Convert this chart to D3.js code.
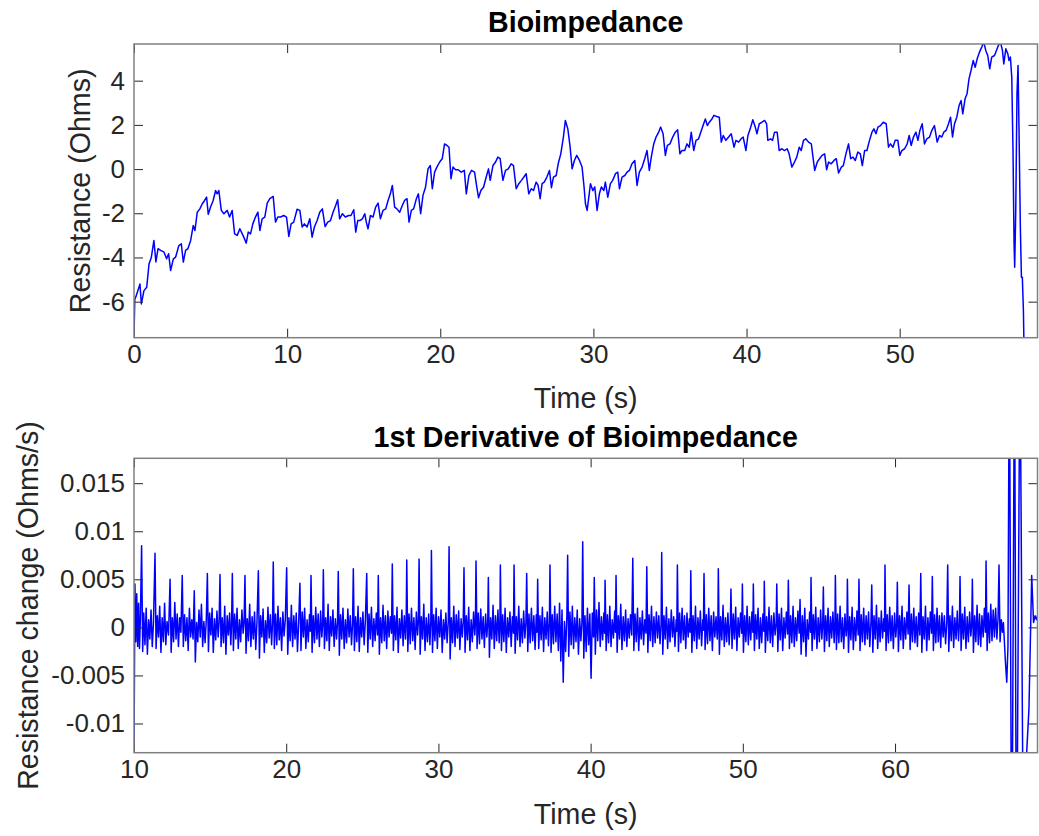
<!DOCTYPE html>
<html>
<head>
<meta charset="utf-8">
<script src="https://cdn.jsdelivr.net/npm/d3@7"></script>
<style>
    body { margin: 0; background: #ffffff; }
    svg text { font-family: "Liberation Sans", Arial, Helvetica, sans-serif; fill: #262626; }
</style>
</head>
<body>
<svg id="chart"></svg>
<script>
/*--------------------------------------------------------------------------------
----- DATA
--------------------------------------------------------------------------------*/

// Bioimpedance resistance samples: [time (s), resistance (Ohms)]
const bioimpedance_samples = [
    [0, -7.6], [0.05, -5.9], [0.11, -5.8], [0.22, -5.57], [0.39, -5.2], [0.48, -6.1], [0.65, -5.5], [0.83, -5.35],
    [0.98, -4.3], [1.13, -4.0], [1.30, -3.23], [1.43, -4.2], [1.57, -3.6], [1.74, -3.68], [1.96, -3.76], [2.13, -4.06],
    [2.26, -3.83], [2.39, -4.59], [2.57, -4.06], [2.72, -3.98], [2.93, -3.46], [3.09, -3.38], [3.22, -4.21], [3.37, -3.68],
    [3.52, -3.6], [3.70, -3.23], [3.87, -2.55], [3.98, -2.78], [4.13, -1.95], [4.30, -1.8], [4.46, -1.57], [4.61, -1.42],
    [4.74, -1.27], [4.85, -2.05], [5.00, -1.72], [5.17, -1.42], [5.33, -0.97], [5.43, -1.12], [5.54, -0.97], [5.70, -1.87],
    [5.87, -2.02], [6.09, -1.87], [6.24, -2.17], [6.41, -1.87], [6.57, -2.93], [6.74, -3.0], [6.91, -2.7], [7.07, -2.93],
    [7.17, -3.08], [7.33, -3.35], [7.46, -2.85], [7.61, -2.93], [7.76, -2.48], [7.93, -2.17], [8.09, -1.95], [8.22, -2.78],
    [8.37, -2.25], [8.54, -2.17], [8.70, -1.54], [8.87, -1.34], [9.09, -1.24], [9.24, -2.4], [9.39, -2.17], [9.57, -2.17],
    [9.78, -2.1], [9.96, -2.17], [10.11, -3.05], [10.26, -2.48], [10.43, -2.4], [10.65, -1.82], [10.83, -1.87], [10.98, -2.62],
    [11.13, -2.48], [11.30, -2.62], [11.48, -2.25], [11.63, -3.08], [11.78, -2.62], [11.96, -2.33], [12.13, -1.95], [12.30, -1.8],
    [12.48, -2.6], [12.65, -2.4], [12.83, -2.33], [13.00, -1.95], [13.17, -1.65], [13.30, -1.39], [13.43, -2.25], [13.61, -2.02],
    [13.80, -2.17], [14.02, -2.1], [14.17, -2.1], [14.35, -1.84], [14.48, -2.85], [14.61, -2.33], [14.74, -2.33], [14.91, -2.25],
    [15.07, -2.02], [15.17, -2.4], [15.28, -2.7], [15.44, -2.1], [15.61, -2.17], [15.78, -1.72], [15.94, -1.54], [16.09, -2.25],
    [16.26, -1.87], [16.44, -1.8], [16.59, -1.42], [16.74, -1.12], [16.87, -0.74], [17.02, -1.72], [17.17, -1.8], [17.35, -1.95],
    [17.52, -1.65], [17.67, -1.42], [17.83, -1.34], [17.96, -2.4], [18.11, -1.87], [18.26, -1.8], [18.44, -1.34], [18.57, -1.12],
    [18.72, -2.02], [18.87, -1.19], [19.04, -0.81], [19.20, 0.01], [19.35, 0.16], [19.48, -0.89], [19.63, -0.14], [19.78, 0.09],
    [19.96, 0.32], [20.13, 0.47], [20.28, 1.14], [20.44, 1.07], [20.57, 0.99], [20.70, -0.44], [20.83, 0.09], [21.00, -0.03],
    [21.17, -0.03], [21.37, -0.14], [21.57, -0.06], [21.70, -1.12], [21.87, -0.29], [22.04, -0.06], [22.24, -0.14], [22.35, -0.66],
    [22.50, -1.3], [22.65, -0.97], [22.83, -0.81], [23.00, -0.36], [23.15, 0.01], [23.26, -0.51], [23.44, 0.16], [23.61, 0.32],
    [23.76, 0.54], [23.91, 0.47], [24.09, -0.51], [24.26, -0.06], [24.44, 0.01], [24.63, 0.24], [24.78, 0.16], [24.96, -0.89],
    [25.13, -0.66], [25.30, -0.51], [25.46, -0.36], [25.61, -0.21], [25.78, -1.12], [25.94, -0.89], [26.09, -0.97], [26.26, -0.59],
    [26.39, -0.74], [26.52, -1.34], [26.65, -0.66], [26.79, -0.59], [26.96, -0.36], [27.13, -0.06], [27.26, -0.84], [27.39, -0.36],
    [27.57, -0.29], [27.70, 0.24], [27.87, 0.69], [28.04, 1.45], [28.17, 2.2], [28.33, 1.82], [28.48, 0.99], [28.61, 0.01],
    [28.76, 0.39], [28.91, 0.62], [29.09, 0.39], [29.26, 0.09], [29.39, -0.81], [29.48, -1.57], [29.59, -1.87], [29.70, -1.27],
    [29.81, -0.66], [29.96, -0.97], [30.09, -0.81], [30.24, -1.87], [30.39, -1.12], [30.52, -0.81], [30.68, -0.97], [30.78, -0.59],
    [30.94, -1.27], [31.11, -0.66], [31.26, -0.51], [31.44, -0.21], [31.59, -0.14], [31.70, -0.89], [31.87, -0.36], [32.05, -0.29],
    [32.20, -0.14], [32.35, -0.06], [32.52, 0.24], [32.70, 0.39], [32.85, -0.74], [33.00, -0.14], [33.18, 0.09], [33.35, 0.47],
    [33.50, 0.84], [33.65, -0.06], [33.78, 0.54], [33.94, 1.14], [34.09, 1.45], [34.26, 1.67], [34.39, 1.9], [34.55, 1.6],
    [34.70, 0.62], [34.83, 1.07], [35.00, 1.14], [35.18, 1.45], [35.35, 1.67], [35.50, 1.78], [35.65, 0.69], [35.78, 0.84],
    [35.96, 0.84], [36.11, 1.14], [36.26, 0.99], [36.39, 1.67], [36.55, 0.84], [36.70, 1.3], [36.87, 1.37], [37.05, 1.75],
    [37.20, 2.05], [37.31, 2.27], [37.44, 1.97], [37.57, 2.12], [37.74, 2.27], [37.87, 2.43], [38.05, 2.38], [38.22, 2.35],
    [38.35, 1.22], [38.48, 1.52], [38.65, 1.3], [38.83, 1.45], [39.00, 1.6], [39.18, 0.99], [39.31, 1.3], [39.48, 1.22],
    [39.65, 1.37], [39.78, 1.45], [39.96, 0.84], [40.09, 1.52], [40.24, 1.82], [40.41, 2.23], [40.57, 1.9], [40.68, 1.6],
    [40.83, 2.05], [41.00, 2.12], [41.18, 2.2], [41.31, 2.05], [41.39, 1.3], [41.57, 1.37], [41.70, 1.3], [41.83, 1.67],
    [42.00, 1.67], [42.13, 0.84], [42.31, 0.92], [42.48, 0.84], [42.65, 0.92], [42.78, 0.69], [42.96, 0.09], [43.13, 0.32],
    [43.28, 0.54], [43.44, 0.99], [43.57, 0.84], [43.72, 1.3], [43.87, 1.37], [44.05, 1.22], [44.23, 1.14], [44.34, 0.54],
    [44.45, -0.06], [44.62, 0.32], [44.77, 0.47], [44.93, 0.62], [45.10, 0.69], [45.23, -0.03], [45.36, 0.32], [45.53, 0.24],
    [45.71, 0.39], [45.86, 0.47], [46.01, -0.18], [46.19, 0.09], [46.32, 0.16], [46.49, 0.69], [46.66, 1.14], [46.80, 0.47],
    [46.95, 0.54], [47.10, 0.39], [47.27, 0.77], [47.43, 0.69], [47.56, 0.16], [47.71, 0.84], [47.86, 0.84], [48.03, 1.3],
    [48.19, 1.67], [48.32, 1.82], [48.45, 1.6], [48.58, 1.9], [48.75, 1.97], [48.93, 2.12], [49.12, 2.05], [49.27, 0.99],
    [49.40, 1.14], [49.56, 0.99], [49.71, 1.3], [49.88, 1.3], [50.01, 0.62], [50.14, 0.84], [50.32, 0.92], [50.49, 1.14],
    [50.62, 1.52], [50.75, 1.07], [50.90, 1.45], [51.06, 1.67], [51.19, 1.3], [51.32, 1.75], [51.47, 2.05], [51.62, 1.14],
    [51.77, 1.37], [51.95, 1.45], [52.10, 1.75], [52.27, 1.97], [52.45, 1.22], [52.60, 1.52], [52.75, 1.45], [52.88, 1.67],
    [53.03, 1.75], [53.19, 2.05], [53.32, 2.35], [53.45, 1.45], [53.58, 2.05], [53.73, 2.35], [53.88, 2.88], [54.01, 3.1],
    [54.12, 2.5], [54.27, 3.18], [54.40, 3.41], [54.53, 4.09], [54.66, 4.46], [54.80, 4.91], [54.93, 4.61], [55.06, 4.99],
    [55.21, 5.29], [55.36, 5.52], [55.49, 5.75], [55.62, 5.37], [55.75, 5.14], [55.88, 4.54], [56.01, 5.07], [56.19, 5.14],
    [56.32, 5.37], [56.45, 5.6], [56.58, 5.75], [56.71, 5.37], [56.80, 4.76], [56.93, 5.44], [57.06, 5.22], [57.14, 4.91],
    [57.23, 5.07], [57.32, 4.15], [57.40, 0.84], [57.47, -3.38], [57.51, -4.44], [57.58, -1.87], [57.66, 3.41], [57.73, 4.69],
    [57.79, 1.9], [57.88, -2.63], [57.95, -4.89], [58.01, -4.89], [58.08, -6.4], [58.14, -9.0]
];

// First derivative samples: [time (s), resistance change (milli-Ohms/s)]
const derivative_samples = [
    [10.00, -14], [10.06, 4.5], [10.12, -1.5], [10.18, 3.5], [10.24, -2], [10.30, 2.5], [10.36, -2.2], [10.42, 1],
    [10.50, 8.5], [10.57, -2.5], [10.64, 1.5], [10.72, -1.8], [10.80, 2], [10.88, -2.8], [10.96, 0.8], [11.04, -1.2], [11.12, 1.8], [11.20, -2], [11.28, 0.5],
    [11.38, 7.7], [11.45, -2.2], [11.53, 1.2], [11.61, -1], [11.69, 2.2], [11.77, -2.6], [11.85, 1], [11.93, -1.5], [12.01, 2.5], [12.09, -1.8], [12.17, 0.6], [12.27, -0.8],
    [12.37, 5], [12.44, -2.6], [12.52, 1], [12.60, -1.5], [12.68, 2.6], [12.76, -1.2], [12.84, 1.4], [12.92, -2], [13.00, 1], [13.08, -0.5],
    [13.17, 5.4], [13.24, -2], [13.32, 1.3], [13.40, -1.4], [13.48, 1], [13.56, -2.4], [13.64, 2], [13.72, -1], [13.80, 0.8], [13.88, -1.2],
    [13.96, 3.8], [14.03, -3.6], [14.11, 0.5], [14.19, -1.5], [14.27, 1.8], [14.35, -1], [14.43, 2.4], [14.51, -2], [14.59, 0.6], [14.67, -1.6], [14.75, 0.8],
    [14.82, 5.6], [14.89, -2.5], [14.97, 1.5], [15.05, -0.8], [15.13, 2], [15.21, -2.6], [15.29, 0.9], [15.37, -1.3], [15.45, 1.7], [15.53, -1], [15.59, 0.5],
    [15.65, 5.5], [15.72, -2], [15.80, 1], [15.88, -1.6], [15.96, 2.2], [16.04, -2.8], [16.12, 1.2], [16.20, -0.8], [16.28, 1.5], [16.36, -1.8], [16.41, 0.3],
    [16.46, 5.6], [16.53, -2.4], [16.61, 1.4], [16.69, -1.2], [16.77, 2], [16.85, -2.2], [16.93, 0.8], [17.01, -1.5], [17.09, 1.8], [17.17, -0.6], [17.23, 0.4],
    [17.29, 5.4], [17.36, -2.7], [17.44, 0.9], [17.52, -1.4], [17.60, 2.4], [17.68, -2], [17.76, 1.1], [17.84, -1.2], [17.92, 1.6], [18.00, -2.3], [18.08, 0.6],
    [18.17, 5.9], [18.24, -3.2], [18.32, 1.2], [18.40, -1], [18.48, 1.9], [18.56, -2.6], [18.64, 0.7], [18.72, -1.6], [18.80, 2.1], [18.88, -1.1], [18.96, 1.3], [19.04, -1.8], [19.10, 0.4],
    [19.15, 6.8], [19.22, -2.2], [19.30, 1.4], [19.38, -1.8], [19.46, 2.2], [19.54, -1.3], [19.62, 1], [19.70, -2.4], [19.78, 1.6], [19.86, -0.9], [19.94, 0.8],
    [20.03, 6.2], [20.10, -2.8], [20.18, 1], [20.26, -1.4], [20.34, 2.3], [20.42, -2], [20.50, 1.2], [20.58, -1.2], [20.66, 1.5], [20.74, -2.5], [20.82, 0.5],
    [20.90, 4.6], [20.97, -2.4], [21.05, 1.6], [21.13, -1], [21.21, 2], [21.29, -2.2], [21.37, 0.8], [21.45, -1.5], [21.53, 1.3], [21.58, -0.4],
    [21.63, 5.4], [21.70, -2.6], [21.78, 1.2], [21.86, -1.6], [21.94, 2.1], [22.02, -1.2], [22.10, 1.4], [22.18, -2], [22.26, 1.7], [22.34, -1], [22.40, 0.5],
    [22.44, 6], [22.51, -2.2], [22.59, 1], [22.67, -1.4], [22.75, 2.4], [22.83, -2.4], [22.91, 1.1], [22.99, -0.9], [23.07, 1.8], [23.15, -2], [23.23, 0.9], [23.31, -1.2], [23.37, 0.5],
    [23.42, 5.8], [23.49, -2.9], [23.57, 1.3], [23.65, -1.2], [23.73, 2], [23.81, -2.2], [23.89, 0.8], [23.97, -1.6], [24.05, 1.9], [24.13, -1], [24.21, 1.2], [24.29, -1.8], [24.36, 0.4],
    [24.41, 6.1], [24.48, -2.4], [24.56, 1.1], [24.64, -1.5], [24.72, 2.2], [24.80, -2.5], [24.88, 1], [24.96, -1], [25.04, 1.6], [25.12, -1.8], [25.20, 0.7],
    [25.29, 5.6], [25.36, -2.6], [25.44, 1.4], [25.52, -1.2], [25.60, 2.1], [25.68, -2], [25.76, 0.9], [25.84, -1.4], [25.92, 1.5], [26.00, -0.8],
    [26.05, 5.4], [26.12, -2.8], [26.20, 1], [26.28, -1.6], [26.36, 2.3], [26.44, -1.4], [26.52, 1.2], [26.60, -2.2], [26.68, 1.7], [26.76, -1], [26.84, 1.1], [26.92, -0.6],
    [26.97, 6.6], [27.04, -2.4], [27.12, 1.2], [27.20, -1.3], [27.28, 2.1], [27.36, -2.6], [27.44, 0.9], [27.52, -1.1], [27.60, 1.8], [27.68, -1.9], [27.76, 1.2], [27.84, -1.2], [27.88, 0.4],
    [27.92, 7], [27.99, -2.5], [28.07, 1.4], [28.15, -1.7], [28.23, 2], [28.31, -1.4], [28.39, 1], [28.47, -2.3], [28.55, 1.6], [28.63, -0.8], [28.68, 0.5],
    [28.73, 7.1], [28.80, -2.8], [28.88, 1.1], [28.96, -1.2], [29.04, 2.4], [29.12, -2.4], [29.20, 1], [29.28, -1.5], [29.36, 1.4], [29.44, -1.8], [29.50, 0.6],
    [29.54, 8], [29.61, -2.6], [29.69, 1.3], [29.77, -1.4], [29.85, 2], [29.93, -2.2], [30.01, 1.1], [30.09, -1], [30.17, 1.8], [30.25, -2.6], [30.33, 0.8], [30.41, -1.2], [30.49, 1.5], [30.57, -1.6], [30.65, 0.6],
    [30.70, 8.4], [30.77, -3.3], [30.85, 1], [30.93, -1.6], [31.01, 2.2], [31.09, -2], [31.17, 1.3], [31.25, -1.1], [31.33, 1.7], [31.41, -2.3], [31.49, 0.9], [31.57, -1], [31.63, 0.5],
    [31.68, 6.2], [31.75, -2.6], [31.83, 1.2], [31.91, -1.3], [31.99, 2.1], [32.07, -2.4], [32.15, 0.8], [32.23, -1.5], [32.31, 1.6], [32.39, -0.8], [32.43, 0.4],
    [32.47, 6.9], [32.54, -2.2], [32.62, 1.5], [32.70, -1.7], [32.78, 1.9], [32.86, -1.2], [32.94, 1.1], [33.02, -2.1], [33.10, 1.4], [33.18, -1], [33.24, 0.5],
    [33.28, 5.2], [33.35, -3.1], [33.43, 1], [33.51, -1.2], [33.59, 2.3], [33.67, -2.2], [33.75, 1.2], [33.83, -1.4], [33.91, 1.8], [33.99, -1.6], [34.04, 0.4],
    [34.07, 6.5], [34.14, -2.4], [34.22, 1.3], [34.30, -1.5], [34.38, 2], [34.46, -2.6], [34.54, 1], [34.62, -1], [34.70, 1.6], [34.78, -2], [34.86, 1.1], [34.93, -0.6],
    [34.97, 6.5], [35.04, -2.7], [35.12, 1.1], [35.20, -1.3], [35.28, 2.2], [35.36, -2], [35.44, 0.9], [35.52, -1.6], [35.60, 1.7], [35.68, -1.1], [35.75, 0.5],
    [35.80, 5.6], [35.87, -2.5], [35.95, 1.4], [36.03, -1.6], [36.11, 2], [36.19, -1.4], [36.27, 1.2], [36.35, -2.3], [36.43, 1.3], [36.48, -0.5],
    [36.52, 5], [36.59, -2.2], [36.67, 1.2], [36.75, -1.3], [36.83, 2.1], [36.91, -2.5], [36.99, 1], [37.07, -1.2], [37.15, 1.6], [37.23, -1.9], [37.29, 0.5],
    [37.33, 6.5], [37.40, -2.6], [37.48, 1.3], [37.56, -1.7], [37.64, 2.2], [37.72, -1.5], [37.80, 1.4], [37.88, -2.4], [37.96, 2.5], [38.04, -3.5], [38.12, 1.8], [38.20, -5.7], [38.28, 0.6], [38.36, -2.5], [38.44, 1.2],
    [38.49, 7.5], [38.56, -3], [38.64, 1.6], [38.72, -1.8], [38.80, 2.2], [38.88, -2.2], [38.96, 1], [39.04, -1.5], [39.12, 1.8], [39.20, -2.8], [39.28, 0.9], [39.36, -1.4], [39.43, 0.5],
    [39.48, 8.9], [39.55, -3.2], [39.63, 1.2], [39.71, -2.5], [39.79, 2], [39.87, -1.8], [39.95, 1.4], [40.03, -5.3], [40.11, 1.5], [40.19, -1],
    [40.24, 5.2], [40.31, -2.8], [40.39, 1.8], [40.47, -1.4], [40.55, 2.6], [40.63, -2], [40.71, 1.1], [40.79, -1.3], [40.87, 1.5], [40.92, -0.6],
    [40.95, 4.9], [41.02, -2.4], [41.10, 1.3], [41.18, -1.6], [41.26, 2.2], [41.34, -2], [41.42, 0.8], [41.50, -1.1], [41.58, 1.7], [41.63, -0.5],
    [41.67, 5.4], [41.74, -2.6], [41.82, 1.2], [41.90, -1.2], [41.98, 2.4], [42.06, -2.3], [42.14, 1.1], [42.22, -1.4], [42.30, 1.8], [42.38, -2], [42.46, 0.9], [42.54, -1.1], [42.62, 1.3], [42.70, -0.8],
    [42.77, 7.2], [42.84, -2.4], [42.92, 1.4], [43.00, -1.5], [43.08, 2], [43.16, -2.4], [43.24, 1], [43.32, -1.2], [43.40, 1.7], [43.48, -1.8], [43.56, 0.8], [43.64, -0.6],
    [43.69, 6.3], [43.76, -2.6], [43.84, 1.3], [43.92, -1.4], [44.00, 2.2], [44.08, -2], [44.16, 1.1], [44.24, -1.6], [44.32, 1.6], [44.40, -1.1], [44.48, 1.2], [44.56, -1.7], [44.63, 0.4],
    [44.67, 7.8], [44.74, -2.8], [44.82, 1.2], [44.90, -1.2], [44.98, 2.1], [45.06, -2.2], [45.14, 0.9], [45.22, -1.5], [45.30, 1.8], [45.38, -1], [45.46, 1.1], [45.54, -2], [45.62, 0.8], [45.66, -0.4],
    [45.70, 6.5], [45.77, -2.5], [45.85, 1.5], [45.93, -1.6], [46.01, 2], [46.09, -1.3], [46.17, 1.2], [46.25, -2.2], [46.33, 1.5], [46.41, -1], [46.49, 0.9], [46.54, -0.5],
    [46.58, 5.9], [46.65, -2.6], [46.73, 1.2], [46.81, -1.4], [46.89, 2.2], [46.97, -2.2], [47.05, 1], [47.13, -1.2], [47.21, 1.7], [47.29, -1.9], [47.37, 0.8], [47.41, -0.3],
    [47.45, 5.6], [47.52, -2.3], [47.60, 1.3], [47.68, -1.7], [47.76, 2], [47.84, -1.4], [47.92, 1.2], [48.00, -2.4], [48.08, 1.6], [48.16, -1], [48.24, 1.1], [48.32, -1.2], [48.36, 0.3],
    [48.39, 6.1], [48.46, -2.8], [48.54, 1.1], [48.62, -1.3], [48.70, 2.3], [48.78, -2], [48.86, 1], [48.94, -1.5], [49.02, 1.5], [49.10, -1.8], [49.18, 0.6],
    [49.22, 4], [49.29, -2.2], [49.37, 1.4], [49.45, -1.2], [49.53, 2.1], [49.61, -2.4], [49.69, 1], [49.77, -1], [49.85, 1.5], [49.93, -0.6],
    [49.97, 4.5], [50.04, -2.6], [50.12, 1.2], [50.20, -1.5], [50.28, 2.2], [50.36, -1.8], [50.44, 1.1], [50.52, -1.3], [50.60, 1.6], [50.66, -0.5],
    [50.69, 4.5], [50.76, -2.4], [50.84, 1.3], [50.92, -1.2], [51.00, 2], [51.08, -2.2], [51.16, 1], [51.24, -1.6], [51.32, 1.4], [51.38, -0.4],
    [51.41, 4.8], [51.48, -2.6], [51.56, 1.1], [51.64, -1.4], [51.72, 2.1], [51.80, -1.6], [51.88, 1.2], [51.96, -2], [52.04, 1.5], [52.12, -0.8], [52.19, 0.4],
    [52.23, 4.5], [52.30, -2.5], [52.38, 1.4], [52.46, -1.3], [52.54, 2], [52.62, -2.4], [52.70, 1], [52.78, -1.1], [52.86, 1.6], [52.94, -0.7],
    [52.99, 4.9], [53.06, -2.2], [53.14, 1.2], [53.22, -1.6], [53.30, 2.2], [53.38, -2], [53.46, 1], [53.54, -1.4], [53.62, 1.7], [53.70, -0.6],
    [53.76, 2.9], [53.83, -2.8], [53.91, 1.2], [53.99, -1.5], [54.07, 2], [54.15, -3], [54.23, 0.8], [54.31, -1.2], [54.39, 1.6], [54.45, -0.5],
    [54.48, 5.2], [54.55, -2.4], [54.63, 1.3], [54.71, -1.2], [54.79, 2.1], [54.87, -2.2], [54.95, 1], [55.03, -1.5], [55.11, 1.8], [55.19, -1.2], [55.25, 0.4],
    [55.29, 4.2], [55.36, -2.5], [55.44, 1.2], [55.52, -1.4], [55.60, 2], [55.68, -2], [55.76, 1.1], [55.84, -1.1], [55.92, 1.6], [56.00, -1.6], [56.05, 0.4],
    [56.08, 5.4], [56.15, -2.3], [56.23, 1.4], [56.31, -1.6], [56.39, 2.2], [56.47, -1.5], [56.55, 1], [56.63, -2.2], [56.71, 1.4], [56.79, -0.9], [56.84, 0.3],
    [56.87, 5], [56.94, -2.6], [57.02, 1.1], [57.10, -1.3], [57.18, 2.1], [57.26, -2.3], [57.34, 1], [57.42, -1.4], [57.50, 1.7], [57.58, -0.8],
    [57.63, 5], [57.70, -2.4], [57.78, 1.3], [57.86, -1.5], [57.94, 2], [58.02, -1.8], [58.10, 1.2], [58.18, -1.2], [58.26, 1.6], [58.34, -2], [58.42, 0.6],
    [58.47, 4.4], [58.54, -2.6], [58.62, 1.2], [58.70, -1.2], [58.78, 2.3], [58.86, -2.2], [58.94, 1], [59.02, -1.5], [59.10, 1.7], [59.18, -1.1], [59.26, 0.9], [59.31, -0.4],
    [59.34, 6.5], [59.41, -2.4], [59.49, 1.3], [59.57, -1.6], [59.65, 2.1], [59.73, -1.4], [59.81, 1.2], [59.89, -2.2], [59.97, 1.5], [60.05, -1], [60.11, 0.4],
    [60.15, 4.7], [60.22, -2.5], [60.30, 1.2], [60.38, -1.3], [60.46, 2.2], [60.54, -2.2], [60.62, 1], [60.70, -1.2], [60.78, 1.6], [60.86, -0.7],
    [60.92, 4.4], [60.99, -2.3], [61.07, 1.4], [61.15, -1.5], [61.23, 2], [61.31, -1.6], [61.39, 1.1], [61.47, -2], [61.55, 1.5], [61.63, -0.8],
    [61.69, 5.6], [61.76, -2.6], [61.84, 1.1], [61.92, -1.2], [62.00, 2.2], [62.08, -2.4], [62.16, 1], [62.24, -1.3], [62.32, 1.6], [62.40, -0.6],
    [62.45, 5.3], [62.52, -2.4], [62.60, 1.3], [62.68, -1.6], [62.76, 2], [62.84, -1.5], [62.92, 1.2], [63.00, -2.1], [63.08, 1.5], [63.16, -1], [63.24, 1.2], [63.32, -1.7], [63.40, 0.5],
    [63.46, 6.5], [63.53, -2.5], [63.61, 1.2], [63.69, -1.4], [63.77, 2.2], [63.85, -2.1], [63.93, 1], [64.01, -1.2], [64.09, 1.7], [64.17, -1.4], [64.23, 0.4],
    [64.27, 5.3], [64.34, -2.4], [64.42, 1.4], [64.50, -1.2], [64.58, 2.1], [64.66, -2.2], [64.74, 1.1], [64.82, -1.5], [64.90, 1.6], [64.98, -0.9], [65.04, 0.3],
    [65.08, 5], [65.15, -2.6], [65.23, 1.2], [65.31, -1.5], [65.39, 2.3], [65.47, -1.8], [65.55, 1.4], [65.63, -2], [65.71, 1.2], [65.79, -1], [65.87, 2], [65.94, -0.5],
    [65.98, 6.9], [66.05, -2.4], [66.13, 1.5], [66.21, -1.6], [66.29, 2.4], [66.37, -1.4], [66.45, 1.8], [66.53, -1], [66.61, 2], [66.69, -1.2], [66.77, 1],
    [66.83, 6.5], [66.90, -1.5], [66.98, 0.8], [67.06, -0.5], [67.12, 0.5], [67.25, -3.5], [67.34, -5.7], [67.42, -2],
    [67.51, 30], [67.67, -30], [67.85, 30], [67.98, -30], [68.21, 30], [68.45, -30], [68.65, -13], [68.80, -8.4],
    [68.98, 5.4], [69.10, 0.5], [69.20, 1.2], [69.30, 0.8], [69.46, 1.9]
];

// Scale of the derivative samples (stored in milli-Ohms/s)
const derivative_unit = 0.001;

// Axis domains and tick values
const bio_x_domain = [0, 59.0];
const bio_y_domain = [-7.63, 5.66];
const bio_x_ticks = [0, 10, 20, 30, 40, 50];
const bio_y_ticks = [-6, -4, -2, 0, 2, 4];

const deriv_x_domain = [10, 69.36];
const deriv_y_domain = [-0.01304, 0.01759];
const deriv_x_ticks = [10, 20, 30, 40, 50, 60];
const deriv_y_ticks = [-0.01, -0.005, 0, 0.005, 0.01, 0.015];

/*--------------------------------------------------------------------------------
----- LAYOUT
--------------------------------------------------------------------------------*/

const chart_width = 1039, chart_height = 836;
const plot_left = 134, plot_right = 1037.5;
const tick_font = 26, label_font = 28.6;

const chart_svg = d3.select("#chart")
    .attr("width", chart_width)
    .attr("height", chart_height);

// Draw one MATLAB-like subplot with box, inward ticks, title and labels
function draw_subplot(config) {
    const x_scale = d3.scaleLinear().domain(config.x_domain).range([plot_left, plot_right]);
    const y_scale = d3.scaleLinear().domain(config.y_domain).range([config.bottom, config.top]);

    const group = chart_svg.append("g");

    // Clip the line to the axes area
    group.append("clipPath")
        .attr("id", config.id + "-clip")
        .append("rect")
        .attr("x", plot_left)
        .attr("y", config.top)
        .attr("width", plot_right - plot_left)
        .attr("height", config.bottom - config.top);

    // Data line
    group.append("path")
        .datum(config.samples)
        .attr("clip-path", "url(#" + config.id + "-clip)")
        .attr("fill", "none")
        .attr("stroke", "#0000ff")
        .attr("stroke-width", 1.5)
        .attr("stroke-linejoin", "round")
        .attr("d", d3.line()
            .x(function (d) { return x_scale(d[0]); })
            .y(function (d) { return y_scale(d[1] * config.unit); }));

    // Bottom axis with labels, ticks pointing inwards
    const x_axis = group.append("g")
        .attr("transform", "translate(0," + config.bottom + ")")
        .call(d3.axisBottom(x_scale).tickValues(config.x_ticks).tickSizeInner(-9).tickSizeOuter(0).tickPadding(7)
            .tickFormat(function (d) { return String(d); }));

    // Left axis with labels
    const y_axis = group.append("g")
        .attr("transform", "translate(" + plot_left + ",0)")
        .call(d3.axisLeft(y_scale).tickValues(config.y_ticks).tickSizeInner(-9).tickSizeOuter(0).tickPadding(9)
            .tickFormat(function (d) { return String(+d.toFixed(4)); }));

    // Mirrored ticks on top and right sides
    const x_axis_top = group.append("g")
        .attr("transform", "translate(0," + config.top + ")")
        .call(d3.axisTop(x_scale).tickValues(config.x_ticks).tickSizeInner(-9).tickSizeOuter(0).tickFormat(""));
    const y_axis_right = group.append("g")
        .attr("transform", "translate(" + plot_right + ",0)")
        .call(d3.axisRight(y_scale).tickValues(config.y_ticks).tickSizeInner(-9).tickSizeOuter(0).tickFormat(""));

    [x_axis, y_axis, x_axis_top, y_axis_right].forEach(function (axis) {
        axis.select(".domain").remove();
        axis.selectAll(".tick line").attr("stroke", "#262626").attr("stroke-width", 1);
        axis.selectAll(".tick text")
            .attr("fill", "#262626")
            .style("font-size", tick_font + "px");
    });

    // Axes box
    group.append("rect")
        .attr("x", plot_left)
        .attr("y", config.top)
        .attr("width", plot_right - plot_left)
        .attr("height", config.bottom - config.top)
        .attr("fill", "none")
        .attr("stroke", "#808080")
        .attr("stroke-width", 1.5);

    // Title
    group.append("text")
        .attr("x", (plot_left + plot_right) / 2)
        .attr("y", config.title_y)
        .attr("text-anchor", "middle")
        .style("font-size", label_font + "px")
        .style("font-weight", "bold")
        .style("fill", "#000")
        .text(config.title);

    // X label
    group.append("text")
        .attr("x", (plot_left + plot_right) / 2)
        .attr("y", config.x_label_y)
        .attr("text-anchor", "middle")
        .style("font-size", label_font + "px")
        .text(config.x_label);

    // Y label
    group.append("text")
        .attr("transform", "translate(" + config.y_label_x + "," + ((config.top + config.bottom) / 2) + ") rotate(-90)")
        .attr("text-anchor", "middle")
        .style("font-size", label_font + "px")
        .text(config.y_label);
}

draw_subplot({
    id: "bio",
    samples: bioimpedance_samples,
    unit: 1,
    x_domain: bio_x_domain,
    y_domain: bio_y_domain,
    x_ticks: bio_x_ticks,
    y_ticks: bio_y_ticks,
    top: 44,
    bottom: 337.7,
    title: "Bioimpedance",
    title_y: 32,
    x_label: "Time (s)",
    x_label_y: 408,
    y_label: "Resistance (Ohms)",
    y_label_x: 90
});

draw_subplot({
    id: "deriv",
    samples: derivative_samples,
    unit: derivative_unit,
    x_domain: deriv_x_domain,
    y_domain: deriv_y_domain,
    x_ticks: deriv_x_ticks,
    y_ticks: deriv_y_ticks,
    top: 458.3,
    bottom: 752.7,
    title: "1st Derivative of Bioimpedance",
    title_y: 447,
    x_label: "Time (s)",
    x_label_y: 824,
    y_label: "Resistance change (Ohms/s)",
    y_label_x: 38
});
</script>
</body>
</html>
